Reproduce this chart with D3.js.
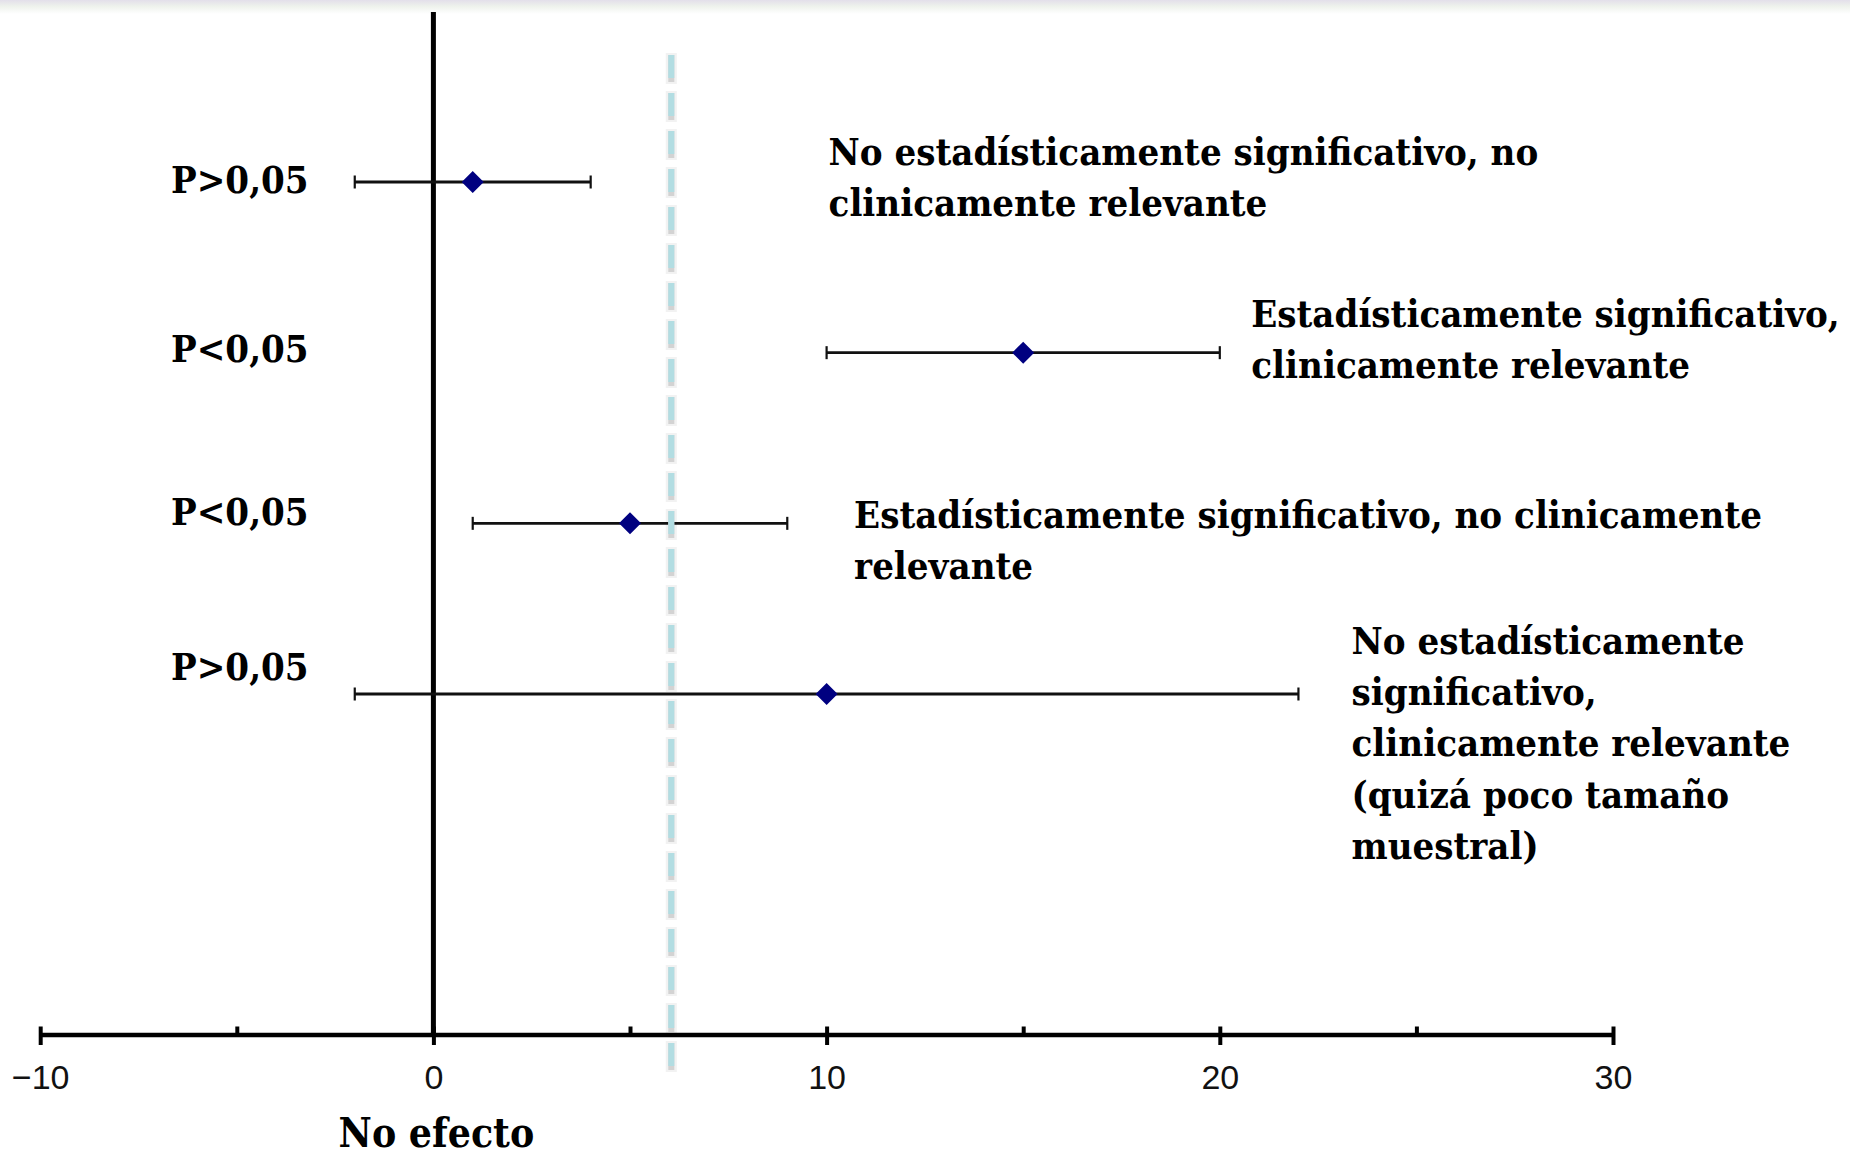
<!DOCTYPE html>
<html>
<head>
<meta charset="utf-8">
<script src="https://cdn.jsdelivr.net/npm/d3@7"></script>
<style>
  html, body { margin: 0; padding: 0; background: #fff; }
  svg { display: block; }
  .serif { font-family: "DejaVu Serif Condensed", "DejaVu Serif", serif; font-weight: bold; font-stretch: condensed; fill: #000; }
  .tick text { font-family: "Liberation Sans", Arial, sans-serif; }
</style>
</head>
<body>
<svg id="chart" width="1850" height="1158"></svg>
<script>
// Effect estimates with their confidence intervals, top row first
const rowLabels = ["P>0,05", "P<0,05", "P<0,05", "P>0,05"];
const estimates = [1, 15, 5, 10];
const ciLower   = [-2, 10, 1, -2];
const ciUpper   = [4, 20, 9, 22];
const notes = [
  ["No estadísticamente significativo, no", "clinicamente relevante"],
  ["Estadísticamente significativo,", "clinicamente relevante"],
  ["Estadísticamente significativo, no clinicamente", "relevante"],
  ["No estadísticamente", "significativo,", "clinicamente relevante", "(quizá poco tamaño", "muestral)"]
];
// Threshold of clinical relevance and the axis ticks
const relevanceThreshold = 6.05;
const majorTicks = [-10, 0, 10, 20, 30];
const minorTicks = [-5, 5, 15, 25];
const axisTitle = "No efecto";

const svg = d3.select("#chart");
const W = 1850, H = 1158;
const axisY = 1034.5;

const x = d3.scaleLinear().domain([-10, 30]).range([40.2, 1613]);
const y = d3.scalePoint().domain(d3.range(rowLabels.length)).range([182, 694]);

// faint band along the top edge
const defs = svg.append("defs");
const grad = defs.append("linearGradient").attr("id", "topBand")
  .attr("x1", 0).attr("y1", 0).attr("x2", 0).attr("y2", 1);
grad.append("stop").attr("offset", "0%").attr("stop-color", "#e3dfea");
grad.append("stop").attr("offset", "45%").attr("stop-color", "#eef2ec");
grad.append("stop").attr("offset", "100%").attr("stop-color", "#ffffff");
svg.append("rect").attr("width", W).attr("height", H).attr("fill", "#fff");
svg.append("rect").attr("width", W).attr("height", 14).attr("fill", "url(#topBand)");

// soft halo behind the threshold dashes
const dashTop = 55, dashBottom = 1072;
const tx = x(relevanceThreshold);
svg.append("line").attr("x1", tx).attr("x2", tx).attr("y1", dashTop - 2).attr("y2", dashBottom + 2)
  .attr("stroke", "#f2f2f2").attr("stroke-width", 11).attr("stroke-dasharray", "31 7");

// line of no effect
svg.append("line")
  .attr("x1", x(0)).attr("x2", x(0))
  .attr("y1", 12).attr("y2", axisY)
  .attr("stroke", "#000").attr("stroke-width", 5);

// error bars
const bars = svg.append("g").selectAll("g").data(estimates).join("g");
bars.append("line")
  .attr("x1", (d, i) => x(ciLower[i])).attr("x2", (d, i) => x(ciUpper[i]))
  .attr("y1", (d, i) => y(i)).attr("y2", (d, i) => y(i))
  .attr("stroke", "#111").attr("stroke-width", 2.8);
[ciLower, ciUpper].forEach(arr => {
  bars.append("line")
    .attr("x1", (d, i) => x(arr[i])).attr("x2", (d, i) => x(arr[i]))
    .attr("y1", (d, i) => y(i) - 6.5).attr("y2", (d, i) => y(i) + 6.5)
    .attr("stroke", "#111").attr("stroke-width", 2.2);
});

// dashed threshold line
svg.append("line").attr("x1", tx).attr("x2", tx).attr("y1", dashTop).attr("y2", dashBottom)
  .attr("stroke", "#d3d3d3").attr("stroke-width", 6).attr("stroke-dasharray", "27 11");
svg.append("line").attr("x1", tx).attr("x2", tx).attr("y1", dashTop).attr("y2", dashBottom)
  .attr("stroke", "#b2dde2").attr("stroke-width", 6).attr("stroke-dasharray", "23 15");

// point estimates
svg.append("g").selectAll("path").data(estimates).join("path")
  .attr("d", d3.symbol().type(d3.symbolSquare).size(242))
  .attr("transform", (d, i) => `translate(${x(d)},${y(i)}) rotate(45)`)
  .attr("fill", "#000080");

// x axis with major ticks crossing the line and short minor ticks above it
const axisG = svg.append("g").attr("transform", `translate(0,${axisY})`)
  .call(d3.axisBottom(x).tickValues(majorTicks).tickSizeOuter(0).tickSizeInner(10).tickPadding(20));
axisG.select(".domain").attr("stroke", "#000").attr("stroke-width", 4.5);
axisG.selectAll(".tick line").attr("y1", -8).attr("y2", 10.5).attr("stroke", "#000").attr("stroke-width", 4);
axisG.selectAll(".tick text").attr("font-size", 34).attr("fill", "#111").attr("dy", "0.71em");

const minorG = svg.append("g").attr("transform", `translate(0,${axisY})`)
  .call(d3.axisBottom(x).tickValues(minorTicks).tickSizeOuter(0).tickFormat(""));
minorG.select(".domain").remove();
minorG.selectAll(".tick line").attr("y1", -8).attr("y2", 0).attr("stroke", "#000").attr("stroke-width", 4);

// axis title under zero
svg.append("text").attr("class", "serif")
  .attr("x", x(0) + 3).attr("y", 1147).attr("text-anchor", "middle")
  .attr("font-size", 40.5).text(axisTitle);

// p-value labels on the left
const pOffset = [11, 9, 2, -14];
svg.append("g").selectAll("text").data(rowLabels).join("text")
  .attr("class", "serif").attr("font-size", 38)
  .attr("x", 171).attr("y", (d, i) => y(i) + pOffset[i])
  .text(d => d);

// explanatory notes beside each interval
const noteX = [10.05, 20.8, 10.7, 23.35];
const noteBaseline = [165, 326.7, 528, 654];
const lineGap = 51.2;
notes.forEach((lines, i) => {
  const t = svg.append("text").attr("class", "serif").attr("font-size", 38)
    .attr("x", x(noteX[i])).attr("y", noteBaseline[i]);
  lines.forEach((s, k) => {
    t.append("tspan").attr("x", x(noteX[i])).attr("y", noteBaseline[i] + k * lineGap).text(s);
  });
});
</script>
</body>
</html>
